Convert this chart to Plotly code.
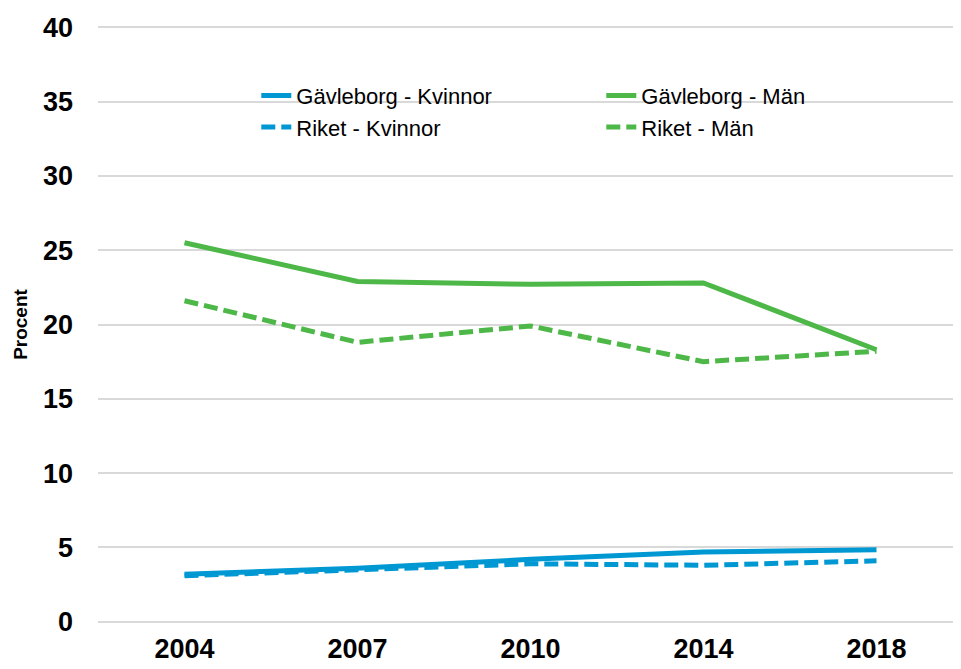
import plotly.graph_objects as go

years = ["2004", "2007", "2010", "2014", "2018"]
gavle_kvinnor = [3.2, 3.6, 4.2, 4.7, 4.85]
gavle_man = [25.5, 22.9, 22.7, 22.8, 18.3]
riket_kvinnor = [3.1, 3.5, 3.9, 3.8, 4.1]
riket_man = [21.6, 18.8, 19.9, 17.5, 18.2]
y_ticks = [0, 5, 10, 15, 20, 25, 30, 35, 40]

blue = "#0098D3"
green = "#4DB848"

fig = go.Figure()
fig.add_trace(go.Scatter(x=years, y=gavle_kvinnor, name="Gävleborg - Kvinnor", mode="lines",
                         line=dict(color=blue, width=5)))
fig.add_trace(go.Scatter(x=years, y=gavle_man, name="Gävleborg - Män", mode="lines",
                         line=dict(color=green, width=5)))
fig.add_trace(go.Scatter(x=years, y=riket_kvinnor, name="Riket - Kvinnor", mode="lines",
                         line=dict(color=blue, width=5, dash="14px,6px")))
fig.add_trace(go.Scatter(x=years, y=riket_man, name="Riket - Män", mode="lines",
                         line=dict(color=green, width=5, dash="14px,6px")))

fig.update_layout(
    width=961, height=669,
    margin=dict(l=90, r=6, t=17, b=53),
    paper_bgcolor="white", plot_bgcolor="white",
    font=dict(family="Liberation Sans, Arial, sans-serif", color="black"),
    legend=dict(orientation="h", x=0.183, y=0.917, xanchor="left", yanchor="top",
                entrywidth=300, font=dict(size=22), bgcolor="rgba(0,0,0,0)",
                itemwidth=30),
    showlegend=True,
)
fig.update_xaxes(type="category", showgrid=False, showline=False, ticks="",
                 tickfont=dict(size=27, weight="bold"), ticklabelstandoff=6,
                 range=[-0.5, 4.5])
fig.update_yaxes(range=[-0.15, 40.15], tickvals=y_ticks,
                 showgrid=True, gridcolor="#D9D9D9", gridwidth=2,
                 zeroline=False, showline=False, ticks="",
                 tickfont=dict(size=27, weight="bold"), ticklabelstandoff=24,
                 title=dict(text="Procent", font=dict(size=19, weight="bold"), standoff=10))

fig.write_html("out.html")
